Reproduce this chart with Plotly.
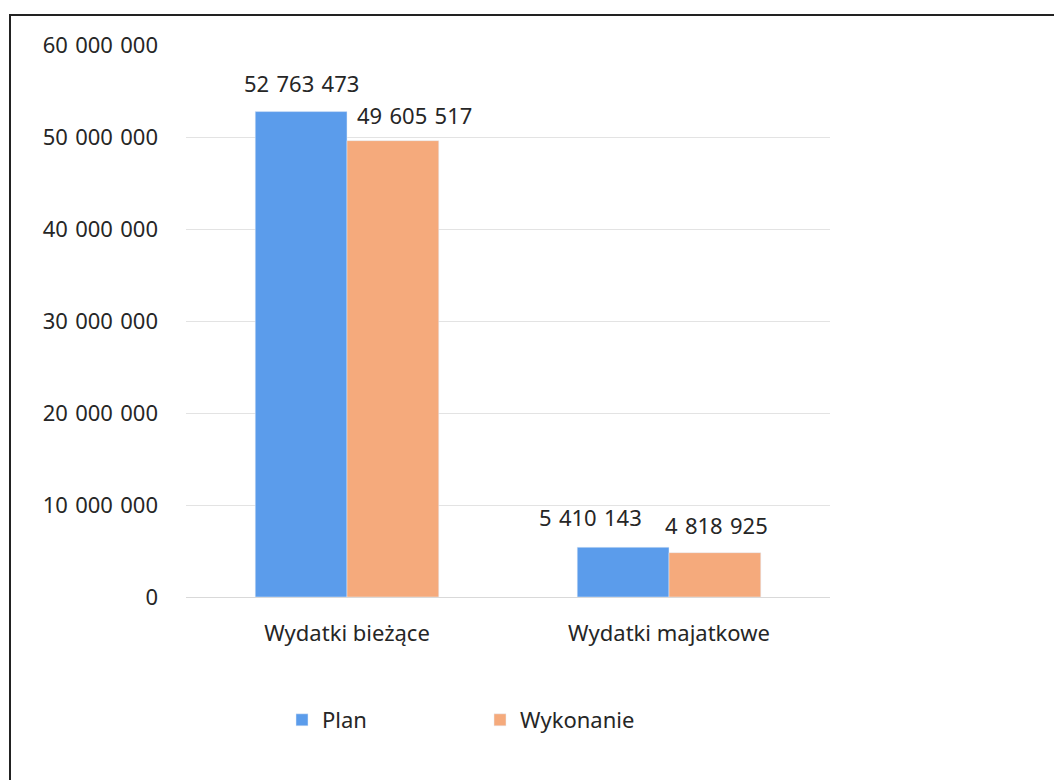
import plotly.graph_objects as go

categories = ["Wydatki bieżące", "Wydatki majatkowe"]
plan = [52763473, 5410143]
wykonanie = [49605517, 4818925]
tick_vals = [0, 10000000, 20000000, 30000000, 40000000, 50000000, 60000000]

W, H = 1062, 780
OFF = 8  # page body offset
L, R, T, B = 186 - OFF, 830 - OFF, 45 - OFF, 597 - OFF
pw, ph = R - L, B - T

FAM = "Noto Sans, Open Sans, sans-serif"
TXT = "#262626"


def fmt(v):
    return f"{v:,}".replace(",", "\u2004")


fig = go.Figure()
fig.add_trace(go.Bar(name="Plan", x=categories, y=plan, marker_color="#5b9ceb"))
fig.add_trace(go.Bar(name="Wykonanie", x=categories, y=wykonanie, marker_color="#f5aa7c"))

# data labels (manually nudged like in the original chart)
label_style = {
    "Plan": dict(dx=[0, -33], dy=[29, 30], base=-46),
    "Wykonanie": dict(dx=[21, 1], dy=[26, 28], base=46),
}
for name, vals in (("Plan", plan), ("Wykonanie", wykonanie)):
    st = label_style[name]
    for i, (c, v) in enumerate(zip(categories, vals)):
        fig.add_annotation(x=c, y=v, text=fmt(v), showarrow=False,
                           xshift=st["base"] + st["dx"][i], yshift=st["dy"][i],
                           yanchor="middle", xanchor="center",
                           font=dict(family=FAM, size=22, color=TXT))

fig.update_layout(
    width=W, height=H,
    margin=dict(l=L, r=W - R, t=T, b=H - B, autoexpand=False),
    paper_bgcolor="white", plot_bgcolor="white",
    barmode="group", bargap=0.43, bargroupgap=0,
    font=dict(family=FAM, size=22, color=TXT),
    showlegend=True,
    legend=dict(orientation="h", x=(282 - 186) / pw, y=(597 - 720) / ph, yanchor="middle",
                xanchor="left", entrywidth=153, entrywidthmode="pixels",
                font=dict(size=22, color=TXT)),
)
fig.update_yaxes(range=[0, 60000000], tickvals=tick_vals,
                 ticktext=[fmt(v) for v in tick_vals],
                 tickfont=dict(size=22),
                 showgrid=True, gridcolor="#e3e3e3", gridwidth=1,
                 zeroline=False, showline=False, ticks="", ticklabelstandoff=27)
fig.update_xaxes(showline=True, linecolor="#d9d9d9", linewidth=1, ticks="",
                 tickfont=dict(size=22), ticklabelstandoff=17)

# outer chart border
fig.add_shape(type="rect", xref="paper", yref="paper",
              x0=(10 - 186) / pw, x1=(1075 - 186) / pw,
              y0=(597 - 795) / ph, y1=(597 - 15) / ph,
              line=dict(color="#222", width=2), fillcolor="rgba(0,0,0,0)", layer="above")

fig.write_html("out.html")
